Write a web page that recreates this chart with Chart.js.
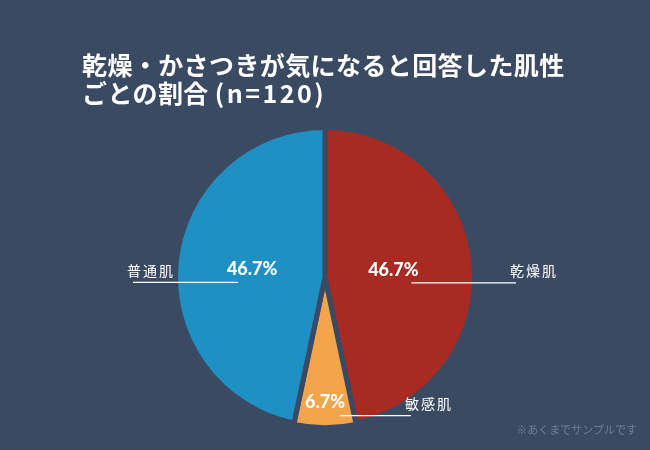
<!DOCTYPE html>
<html><head><meta charset="utf-8">
<script src="https://cdn.jsdelivr.net/npm/chart.js@4"></script>
<style>
html,body{margin:0;padding:0;background:#3B4A63;}
#wrap{position:relative;width:650px;height:450px;overflow:hidden;}
#ttl{position:absolute;left:82px;top:50px;color:#fff;font:bold 25px/28px "Noto Sans CJK JP",sans-serif;letter-spacing:0.4px;margin:0;white-space:nowrap;}
#ttl span{letter-spacing:2.5px;}
#note{position:absolute;right:13px;top:421px;color:#6F7D95;font:11px "Noto Sans CJK JP",sans-serif;}
canvas{position:absolute;left:0;top:0;}
</style></head>
<body><div id="wrap">
<canvas id="c" width="650" height="450"></canvas>
<h1 id="ttl">乾燥・かさつきが気になると回答した肌性<br>ごとの割合 <span>(n=120)</span></h1>
<div id="note">※あくまでサンプルです</div>
</div>
<script>
const LABELS=["乾燥肌","敏感肌","普通肌"];
const COUNTS=[56,8,56];
const PCT=["46.7%","6.7%","46.7%"];
const COLORS=["#A72B22","#F2A54B","#1E90C3"];
const BG="#3B4A63";

// label placement per slice: fraction of radius, leader line start offset, leader line end (from pie centre)
const LBL={frac:[0.46,0.84,0.49],lineFrom:[18,15,-14],lineTo:[191,86,-192]};

const labelPlugin={id:"lbl",afterDatasetsDraw(chart){
  const ctx=chart.ctx;
  chart.getDatasetMeta(0).data.forEach((a,i)=>{
    const mid=(a.startAngle+a.endAngle)/2, R=a.outerRadius*LBL.frac[i];
    const px=a.x+Math.cos(mid)*R, py=a.y+Math.sin(mid)*R;
    ctx.save();
    ctx.fillStyle="#fff";ctx.textAlign="center";ctx.textBaseline="middle";
    ctx.font='900 18px Lato,"Open Sans",sans-serif';
    ctx.fillText(PCT[i],px,py);
    const ly=py+13, x0=px+LBL.lineFrom[i], x1=a.x+LBL.lineTo[i];
    ctx.strokeStyle="#fff";ctx.lineWidth=1.2;
    ctx.beginPath();ctx.moveTo(x0,ly);ctx.lineTo(x1,ly);ctx.stroke();
    ctx.font='14px "Noto Sans CJK JP",sans-serif';ctx.letterSpacing="2px";ctx.textAlign="left";
    ctx.fillText(LABELS[i],x1-6,py+1);
    ctx.restore();
  });
}};

new Chart(document.getElementById("c"),{type:"pie",
  data:{labels:LABELS,datasets:[{data:COUNTS,backgroundColor:COLORS,borderColor:BG,borderWidth:5,offset:[0,3,0]}]},
  options:{responsive:false,animation:false,radius:149.5,
    layout:{padding:{top:110,bottom:6,left:0,right:0}},
    plugins:{legend:{display:false},tooltip:{enabled:false}}},
  plugins:[labelPlugin]});
</script>
</body></html>
